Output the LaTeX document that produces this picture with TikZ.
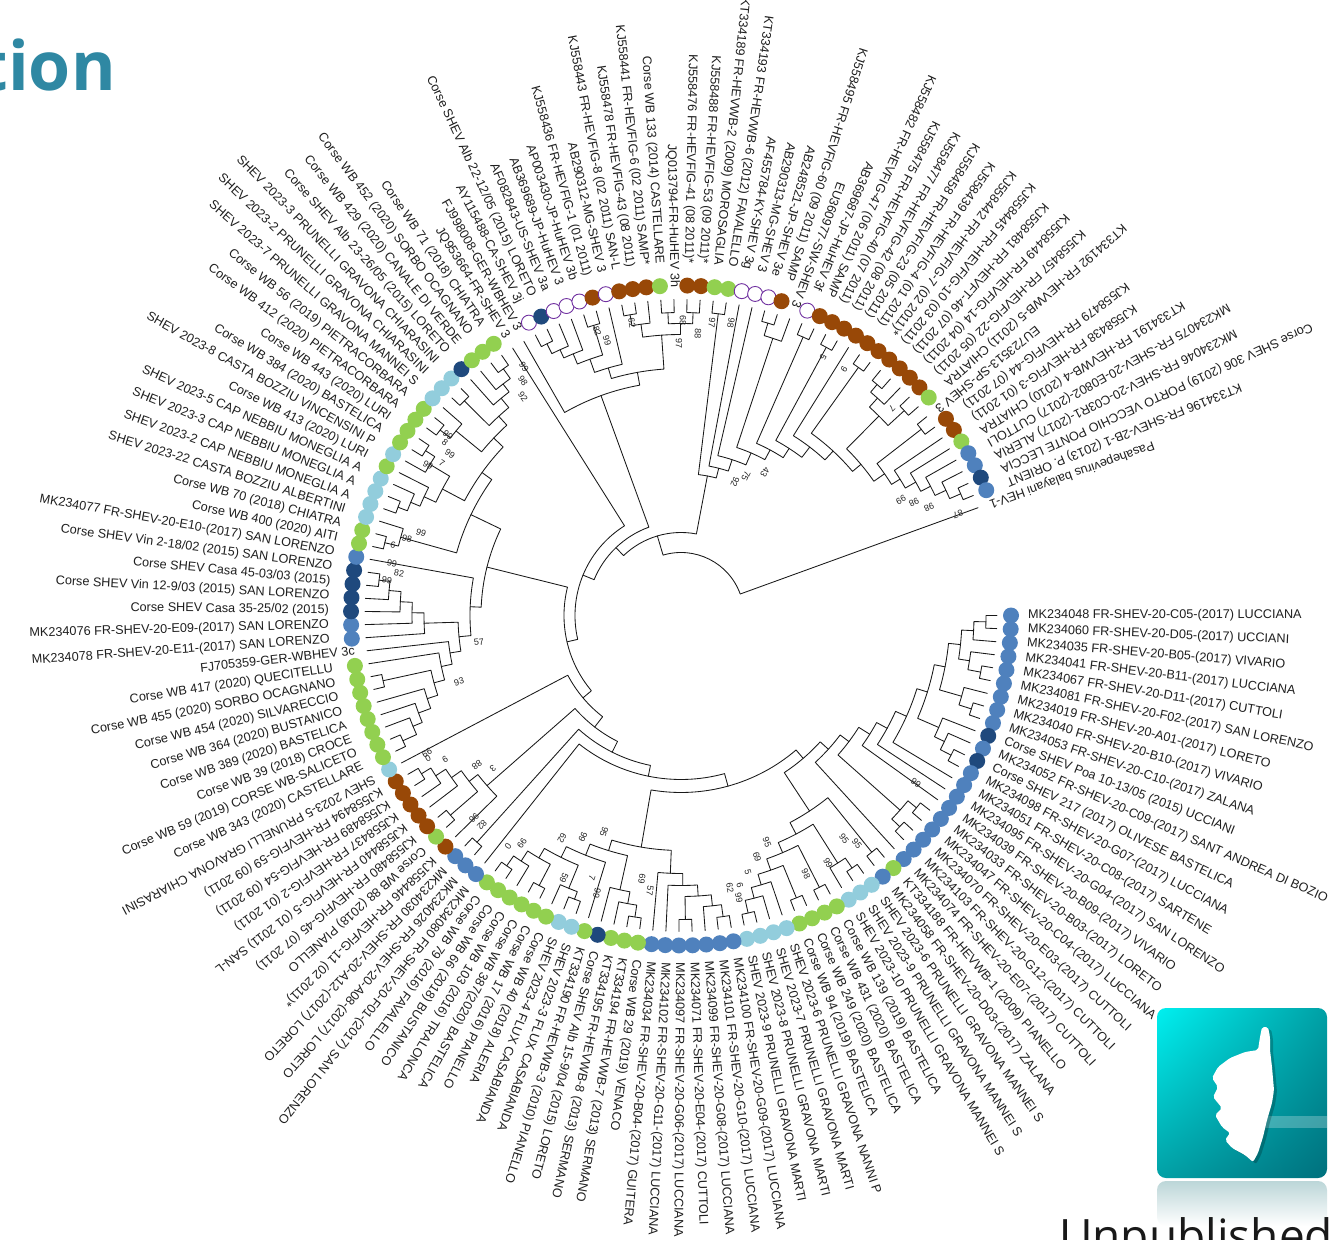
\documentclass[tikz,border=0pt]{standalone}
\usepackage{fontspec}
\usetikzlibrary{shadings}
\setmainfont{Liberation Sans}
\newfontfamily\titlefont{Open Sans}
\definecolor{cb}{HTML}{4F81BD}
\definecolor{cd}{HTML}{1F497D}
\definecolor{cl}{HTML}{92CDDC}
\definecolor{cg}{HTML}{92D050}
\definecolor{cr}{HTML}{984807}
\definecolor{cp}{HTML}{7030A0}
\definecolor{teal}{HTML}{2F88A3}
\definecolor{icoa}{RGB}{0,240,240}
\definecolor{icob}{RGB}{0,160,165}
\definecolor{icoc}{RGB}{2,160,165}
\definecolor{icod}{RGB}{0,112,125}
\definecolor{refl}{RGB}{188,214,216}
\tikzset{
 br/.style={line width=0.85pt,black!90,line cap=round,line join=round},
 leaflab/.style={font=\fontsize{12.65}{14}\selectfont,text=black!88,inner sep=0pt},
 boot/.style={font=\fontsize{9}{9}\selectfont,text=black!85,inner sep=0pt},
 dotb/.style={circle,fill=cb,minimum size=16pt,inner sep=0pt},
 dotd/.style={circle,fill=cd,minimum size=16pt,inner sep=0pt},
 dotl/.style={circle,fill=cl,minimum size=16pt,inner sep=0pt},
 dotg/.style={circle,fill=cg,minimum size=16pt,inner sep=0pt},
 dotr/.style={circle,fill=cr,minimum size=16pt,inner sep=0pt},
 doth/.style={circle,draw=cp,fill=white,line width=0.9pt,minimum size=15pt,inner sep=0pt},
}
\newcount\leafcount
\def\stepang{2.378}
\def\typen{n}
\def\leafn#1#2{%
  \global\advance\leafcount by 1
  \pgfmathsetmacro\tha{-\stepang*(\the\leafcount-1)}%
  \def\typea{#1}%
  \ifx\typea\typen\else
    \node[dot#1] (d\the\leafcount) at (\tha:330) {};
  \fi
  \ifnum\leafcount<66
    \ifx\typea\typen\def\rlab{328}\else\def\rlab{347}\fi
    \node[leaflab,anchor=mid west,rotate=\tha] (t\the\leafcount) at (\tha:\rlab) {#2};
  \else
    \ifx\typea\typen\def\rlab{328}\else\def\rlab{352}\fi
    \pgfmathsetmacro\thb{\tha+180}%
    \node[leaflab,anchor=mid east,rotate=\thb] (t\the\leafcount) at (\tha:\rlab) {#2};
  \fi
}
% tree node: name, radius, child, child
\def\trn#1#2#3#4{%
  \edef\ia{\csname i@#3\endcsname}\edef\ib{\csname i@#4\endcsname}%
  \edef\ra{\csname r@#3\endcsname}\edef\rb{\csname r@#4\endcsname}%
  \pgfmathsetmacro\tha{-\stepang*(\ia-1)}%
  \pgfmathsetmacro\thb{-\stepang*(\ib-1)}%
  \draw[br] (\tha:\ra) -- (\tha:#2) arc[start angle=\tha,end angle=\thb,radius=#2] -- (\thb:\rb);
  \pgfmathsetmacro\im{(\ia+\ib)/2}%
  \expandafter\xdef\csname i@#1\endcsname{\im}%
  \expandafter\xdef\csname r@#1\endcsname{#2}%
}
% support value at pixel position
\newcount\bootcount
\def\bst#1#2#3{%
  \global\advance\bootcount by 1
  \pgfmathsetmacro\ang{atan2(615.5-#2,#1-681)}%
  \pgfmathsetmacro\rot{(\ang<0 && \ang>-155) ? \ang : \ang+180}%
  \node[boot,rotate=\rot] (b\the\bootcount) at (#1-681,615.5-#2) {#3};
}
\begin{document}
\begin{tikzpicture}[x=1pt,y=1pt]
\useasboundingbox (-681,-623.5) rectangle (651,615.5);
\fill[white] (-681,-623.5) rectangle (651,615.5);
\foreach \k in {1,...,144}{\expandafter\xdef\csname i@\k\endcsname{\k}\expandafter\xdef\csname r@\k\endcsname{316}}
% ---- tree: top right ladder
\trn{a15}{305}{142}{143}
\trn{a14}{293}{141}{a15}
\trn{a13}{281}{140}{a14}
\trn{a12}{270}{139}{a13}
\trn{a11}{258}{138}{a12}
\trn{c136}{304}{136}{137}
\trn{a10}{248}{c136}{a11}
\trn{c131}{303}{131}{132}
\trn{c131b}{293}{c131}{133}
\trn{c134}{303}{134}{135}
\trn{c1}{281}{c131b}{c134}
\trn{a9}{235}{c1}{a10}
\trn{c129}{305}{129}{130}
\trn{a8}{224}{c129}{a9}
\trn{a7}{212}{128}{a8}
\trn{c126}{305}{126}{127}
\trn{a6}{199}{c126}{a7}
\trn{c124}{304}{124}{125}
\trn{a5}{188}{c124}{a6}
\trn{c121}{305}{121}{122}
\trn{c121b}{292}{c121}{123}
\trn{a4}{177}{c121b}{a5}
\trn{a3}{164}{120}{a4}
\trn{a2}{152}{119}{a3}
\trn{c117}{304}{117}{118}
\trn{a1}{142}{c117}{a2}
% ---- top group
\trn{c113}{303}{113}{114}
\trn{c115}{303}{115}{116}
\trn{n4}{292}{c113}{c115}
\trn{c110}{305}{110}{111}
\trn{n5}{294}{c110}{112}
\trn{n6}{281}{n5}{n4}
\trn{c103}{303}{103}{104}
\trn{c103b}{292}{c103}{105}
\trn{c103c}{283}{c103b}{106}
\trn{c107}{303}{107}{108}
\trn{n9}{272}{c103c}{c107}
\trn{n8}{258}{n9}{109}
\trn{n7}{247}{n8}{n6}
\trn{n3}{234}{102}{n7}
% ---- upper left
\trn{c99}{304}{99}{100}
\trn{bb}{292}{98}{c99}
\trn{aa}{282}{97}{bb}
\trn{c95}{305}{95}{96}
\trn{z}{270}{c95}{aa}
\trn{c92}{304}{92}{93}
\trn{c92b}{291}{94}{c92}
\trn{y}{258}{c92b}{z}
\trn{c90}{304}{90}{91}
\trn{c89}{293}{89}{c90}
\trn{c85}{303}{85}{86}
\trn{c85b}{293}{87}{c85}
\trn{c85c}{283}{88}{c85b}
\trn{w}{270}{c85c}{c89}
\trn{v}{245}{w}{y}
\trn{c82}{305}{83}{82}
\trn{c82b}{291}{84}{c82}
\trn{uu}{233}{c82b}{v}
% ---- left column
\trn{d1}{304}{80}{79}
\trn{d2}{293}{d1}{78}
\trn{d3}{281}{d2}{77}
\trn{d4}{269}{d3}{76}
\trn{d5}{257}{d4}{75}
\trn{e1}{305}{67}{66}
\trn{e2}{290}{68}{e1}
\trn{e3}{280}{69}{e2}
\trn{u7}{267}{70}{e3}
\trn{e4}{305}{72}{71}
\trn{u6}{256}{e4}{u7}
\trn{u5}{245}{73}{u6}
\trn{u4}{234}{74}{u5}
\trn{u3}{223}{d5}{u4}
\trn{u2}{211}{81}{u3}
\trn{u1}{200}{uu}{u2}
% ---- lower left
\trn{p1}{304}{64}{63}
\trn{p2}{293}{62}{p1}
\trn{p3}{281}{61}{p2}
\trn{q1}{305}{60}{59}
\trn{p4}{269}{p3}{q1}
\trn{p5}{258}{p4}{58}
\trn{c56}{305}{57}{56}
% ---- bottom
\trn{f1}{305}{54}{53}
\trn{f2}{293}{f1}{52}
\trn{f3}{305}{51}{50}
\trn{b4}{281}{f2}{f3}
\trn{f4}{303}{48}{47}
\trn{f5}{295}{49}{f4}
\trn{b3}{270}{b4}{f5}
\trn{b2}{258}{b3}{46}
\trn{g1}{305}{43}{42}
\trn{g2}{293}{44}{g1}
\trn{g3}{281}{45}{g2}
\trn{b1}{246}{b2}{g3}
\trn{h1}{304}{39}{38}
\trn{h2}{304}{36}{35}
\trn{r3}{292}{37}{h2}
\trn{r2}{281}{h1}{r3}
\trn{r1}{270}{40}{r2}
\trn{r0}{258}{41}{r1}
\trn{bb0}{235}{b1}{r0}
\trn{t0}{305}{34}{33}
\trn{t1}{292}{t0}{32}
\trn{t2}{281}{t1}{31}
\trn{k1}{305}{30}{29}
\trn{t3}{270}{t2}{k1}
\trn{k2}{305}{28}{27}
\trn{s2}{258}{t3}{k2}
\trn{k3}{305}{25}{24}
\trn{k4}{293}{26}{k3}
\trn{s1}{247}{s2}{k4}
\trn{k5}{304}{23}{22}
\trn{s}{234}{s1}{k5}
% ---- lower right ladder
\trn{m1}{304}{20}{19}
\trn{m2}{304}{18}{17}
\trn{m3}{293}{m1}{m2}
\trn{o1}{305}{1}{2}
\trn{o2}{293}{o1}{3}
\trn{o3}{305}{5}{6}
\trn{o4}{292}{4}{o3}
\trn{o5}{281}{o4}{o2}
\trn{o6}{305}{8}{9}
\trn{o7}{292}{7}{o6}
\trn{rz}{269}{o7}{o5}
\trn{o8}{304}{13}{12}
\trn{o9}{292}{o8}{11}
\trn{ry}{281}{o9}{10}
\trn{rx}{258}{ry}{rz}
\trn{rw}{247}{14}{rx}
\trn{rv}{235}{15}{rw}
\trn{ru}{223}{16}{rv}
\trn{rt}{210}{m3}{ru}
\trn{rs}{199}{21}{rt}
\trn{rr}{188}{s}{rs}
% ---- backbone
\trn{l5}{177}{bb0}{rr}
\trn{l4}{164}{55}{l5}
\trn{l3}{153}{c56}{l4}
\trn{l2}{141}{p5}{l3}
\trn{l}{128}{65}{l2}
\trn{n12}{117}{u1}{l}
\trn{n11}{106}{101}{n12}
\trn{n2}{94}{n3}{n11}
\trn{n1}{83}{n2}{a1}
\trn{rootn}{63}{n1}{144}
% ---- leaves
\leafn{b}{MK234048 FR-SHEV-20-C05-(2017) LUCCIANA}
\leafn{b}{MK234060 FR-SHEV-20-D05-(2017) UCCIANI}
\leafn{b}{MK234035 FR-SHEV-20-B05-(2017) VIVARIO}
\leafn{b}{MK234041 FR-SHEV-20-B11-(2017) LUCCIANA}
\leafn{b}{MK234067 FR-SHEV-20-D11-(2017) CUTTOLI}
\leafn{b}{MK234081 FR-SHEV-20-F02-(2017) SAN LORENZO}
\leafn{b}{MK234019 FR-SHEV-20-A01-(2017) LORETO}
\leafn{b}{MK234040 FR-SHEV-20-B10-(2017) VIVARIO}
\leafn{b}{MK234053 FR-SHEV-20-C10-(2017) ZALANA}
\leafn{d}{Corse SHEV Poa 10-13/05 (2015) UCCIANI}
\leafn{b}{MK234052 FR-SHEV-20-C09-(2017) SANT ANDREA DI BOZIO}
\leafn{d}{Corse SHEV 217 (2017) OLIVESE BASTELICA}
\leafn{b}{MK234098 FR-SHEV-20-G07-(2017) LUCCIANA}
\leafn{b}{MK234051 FR-SHEV-20-C08-(2017) SARTENE}
\leafn{b}{MK234095 FR-SHEV-20-G04-(2017) SAN LORENZO}
\leafn{b}{MK234039 FR-SHEV-20-B09-(2017) VIVARIO}
\leafn{b}{MK234033 FR-SHEV-20-B03-(2017) LORETO}
\leafn{b}{MK234047 FR-SHEV-20-C04-(2017) LUCCIANA}
\leafn{b}{MK234070 FR-SHEV-20-E03-(2017) CUTTOLI}
\leafn{b}{MK234103 FR-SHEV-20-G12-(2017) CUTTOLI}
\leafn{b}{MK234074 FR-SHEV-20-E07-(2017) CUTTOLI}
\leafn{g}{KT334188 FR-HEVWB-1 (2009) PIANELLO}
\leafn{b}{MK234058 FR-SHEV-20-D03-(2017) ZALANA}
\leafn{l}{SHEV 2023-6 PRUNELLI GRAVONA MANNEI S}
\leafn{l}{SHEV 2023-9 PRUNELLI GRAVONA MANNEI S}
\leafn{l}{SHEV 2023-10 PRUNELLI GRAVONA MANNEI S}
\leafn{g}{Corse WB 139 (2019) BASTELICA}
\leafn{g}{Corse WB 431 (2020) BASTELICA}
\leafn{g}{Corse WB 249 (2020) BASTELICA}
\leafn{g}{Corse WB 94 (2019) BASTELICA}
\leafn{l}{SHEV 2023-6 PRUNELLI GRAVONA NANNI P}
\leafn{l}{SHEV 2023-7 PRUNELLI GRAVONA MARTI}
\leafn{l}{SHEV 2023-8 PRUNELLI GRAVONA MARTI}
\leafn{l}{SHEV 2023-9 PRUNELLI GRAVONA MARTI}
\leafn{b}{MK234100 FR-SHEV-20-G09-(2017) LUCCIANA}
\leafn{b}{MK234101 FR-SHEV-20-G10-(2017) LUCCIANA}
\leafn{b}{MK234099 FR-SHEV-20-G08-(2017) LUCCIANA}
\leafn{b}{MK234071 FR-SHEV-20-E04-(2017) CUTTOLI}
\leafn{b}{MK234097 FR-SHEV-20-G06-(2017) LUCCIANA}
\leafn{b}{MK234102 FR-SHEV-20-G11-(2017) LUCCIANA}
\leafn{b}{MK234034 FR-SHEV-20-B04-(2017) GUITERA}
\leafn{g}{Corse WB 29 (2019) VENACO}
\leafn{g}{KT334194 FR-HEVWB-7 (2013) SERMANO}
\leafn{g}{KT334195 FR-HEVWB-8 (2013) SERMANO}
\leafn{d}{Corse SHEV Alb 15-9/04 (2015) LORETO}
\leafn{g}{KT334190 FR-HEVWB-3 (2010) PIANELLO}
\leafn{l}{SHEV 2023-3 FLUX CASABIANDA}
\leafn{l}{SHEV 2023-4 FLUX CASABIANDA}
\leafn{g}{Corse WB 40 (2018) ALERIA}
\leafn{g}{Corse WB 17 (2016) PIANELLO}
\leafn{g}{Corse WB 387(2020) BASTELICA}
\leafn{g}{Corse WB 103 (2016) TRALONCA}
\leafn{g}{Corse WB 66 (2018) BUSTANICO}
\leafn{g}{Corse WB 79 (2016) FAVALELLO}
\leafn{b}{MK234080 FR-SHEV-20-F01-(2017) SAN LORENZO}
\leafn{b}{MK234026 FR-SHEV-20-A08-(2017) LORETO}
\leafn{b}{MK234030 FR-SHEV-20-A12-(2017) LORETO}
\leafn{r}{KJ558446 FR-HEVFIG-11 (02 2011)*}
\leafn{g}{Corse WB 88 (2018) PIANELLO}
\leafn{r}{KJ558480 FR-HEVFIG-45 (07 2011)}
\leafn{r}{KJ558440 FR-HEVFIG-5 (01 2011) SAN-L}
\leafn{r}{KJ558437 FR-HEVFIG-2 (01 2011)}
\leafn{r}{KJ558489 FR-HEVFIG-54 (09 2011)}
\leafn{r}{KJ558494 FR-HEVFIG-59 (09 2011)}
\leafn{l}{SHEV 2023-5 PRUNELLI GRAVONA CHIARASINI}
\leafn{g}{Corse WB 343 (2020) CASTELLARE}
\leafn{g}{Corse WB 59 (2019) CORSE WB-SALICETO}
\leafn{g}{Corse WB 39 (2018) CROCE}
\leafn{g}{Corse WB 389 (2020) BASTELICA}
\leafn{g}{Corse WB 364 (2020) BUSTANICO}
\leafn{g}{Corse WB 454 (2020) SILVARECCIO}
\leafn{g}{Corse WB 455 (2020) SORBO OCAGNANO}
\leafn{g}{Corse WB 417 (2020) QUECITELLU}
\leafn{n}{FJ705359-GER-WBHEV 3c}
\leafn{b}{MK234078 FR-SHEV-20-E11-(2017) SAN LORENZO}
\leafn{b}{MK234076 FR-SHEV-20-E09-(2017) SAN LORENZO}
\leafn{d}{Corse SHEV Casa 35-25/02 (2015)}
\leafn{d}{Corse SHEV Vin 12-9/03 (2015) SAN LORENZO}
\leafn{d}{Corse SHEV Casa 45-03/03 (2015)}
\leafn{d}{Corse SHEV Vin 2-18/02 (2015) SAN LORENZO}
\leafn{b}{MK234077 FR-SHEV-20-E10-(2017) SAN LORENZO}
\leafn{g}{Corse WB 400 (2020) AITI}
\leafn{g}{Corse WB 70 (2018) CHIATRA}
\leafn{l}{SHEV 2023-22 CASTA BOZZIU ALBERTINI}
\leafn{l}{SHEV 2023-2 CAP NEBBIU MONEGLIA A}
\leafn{l}{SHEV 2023-3 CAP NEBBIU MONEGLIA A}
\leafn{l}{SHEV 2023-5 CAP NEBBIU MONEGLIA A}
\leafn{g}{Corse WB 413 (2020) LURI}
\leafn{l}{SHEV 2023-8 CASTA BOZZIU VINCENSINI P}
\leafn{g}{Corse WB 384 (2020) BASTELICA}
\leafn{g}{Corse WB 443 (2020) LURI}
\leafn{g}{Corse WB 412 (2020) PIETRACORBARA}
\leafn{g}{Corse WB 56 (2019) PIETRACORBARA}
\leafn{l}{SHEV 2023-7 PRUNELLI GRAVONA MANNEI S}
\leafn{l}{SHEV 2023-2 PRUNELLI GRAVONA CHIARASINI}
\leafn{l}{SHEV 2023-3 PRUNELLI GRAVONA CHIARASINI}
\leafn{d}{Corse SHEV Alb 23-26/05 (2015) LORETO}
\leafn{g}{Corse WB 429 (2020) CANALE DI VERDE}
\leafn{g}{Corse WB 452 (2020) SORBO OCAGNANO}
\leafn{g}{Corse WB 71 (2018) CHIATRA}
\leafn{n}{JQ953664-FR-SHEV 3}
\leafn{n}{FJ998008-GER-WBHEV 3}
\leafn{h}{AY115488-CA-SHEV 3j}
\leafn{d}{Corse SHEV Alb 22-12/05 (2015) LORETO}
\leafn{h}{AF082843-US-SHEV 3a}
\leafn{h}{AB369689-JP-HuHEV 3}
\leafn{h}{AP003430-JP-HuHEV 3b}
\leafn{r}{KJ558436 FR-HEVFIG-1 (01 2011)}
\leafn{h}{AB290312-MG-SHEV 3}
\leafn{r}{KJ558443 FR-HEVFIG-8 (02 2011) SAN-L}
\leafn{r}{KJ558478 FR-HEVFIG-43 (08 2011)}
\leafn{r}{KJ558441 FR-HEVFIG-6 (02 2011) SAMP*}
\leafn{g}{Corse WB 133 (2014) CASTELLARE}
\leafn{n}{JQ013794-FR-HuHEV 3h}
\leafn{r}{KJ558476 FR-HEVFIG-41 (08 2011)*}
\leafn{r}{KJ558488 FR-HEVFIG-53 (09 2011)*}
\leafn{g}{KT334189 FR-HEVWB-2 (2009) MOROSAGLIA}
\leafn{g}{KT334193 FR-HEVWB-6 (2012) FAVALELLO}
\leafn{h}{AF455784-KY-SHEV 3g}
\leafn{h}{AB290313-MG-SHEV 3}
\leafn{h}{AB248521-JP-SHEV 3e}
\leafn{r}{KJ558495 FR-HEVFIG-60 (09 2011) SAMP}
\leafn{n}{EU360977-SW-SHEV 3}
\leafn{h}{AB369687-JP-HuHEV 3f}
\leafn{r}{KJ558482 FR-HEVFIG-47 (06 2011) SAMP}
\leafn{r}{KJ558475 FR-HEVFIG-40 (07 2011)}
\leafn{r}{KJ558477 FR-HEVFIG-42 (08 2011)}
\leafn{r}{KJ558458 FR-HEVFIG-23 (05 2011)}
\leafn{r}{KJ558439 FR-HEVFIG-4 (01 2011)}
\leafn{r}{KJ558442 FR-HEVFIG-7 (02 2011)*}
\leafn{r}{KJ558445 FR-HEVFIG-10 (03 2011)}
\leafn{r}{KJ558481 FR-HEVFT-46 (07 2011)}
\leafn{r}{KJ558449 FR-HEVFIG-14 (04 2011)}
\leafn{r}{KJ558457 FR-HEVFIG-22 (05 2011)}
\leafn{g}{KT334192 FR-HEVWB-5 (2011) CHIATRA}
\leafn{n}{EU723513-SP-SHEV 3}
\leafn{r}{KJ558479 FR-HEVFIG-44 (07 2011)}
\leafn{r}{KJ558438 FR-HEVFIG-3 (01 2011)}
\leafn{g}{KT334191 FR-HEVWB-4 (2010) CHIATRA}
\leafn{b}{MK234075 FR-SHEV-20-E0802-(2017) CUTTOLI}
\leafn{b}{MK234046 FR-SHEV-20-C03R1-(2017) ALERIA}
\leafn{d}{Corse SHEV 306 (2019) PORTO VECCHIO PONTE LECCIA}
\leafn{b}{KT334196 FR-SHEV-2B-1 (2013) P. ORIENT}
\leafn{n}{Pasahepevirus balayani HEV-1}
% ---- support values
\bst{524}{367}{99}\bst{523}{381}{98}\bst{523}{397}{92}\bst{448}{435}{99}\bst{445}{442}{8}
\bst{450}{454}{99}\bst{428}{465}{99}\bst{442}{463}{7}\bst{421}{533}{99}\bst{407}{539}{98}
\bst{393}{545}{6}\bst{392}{563}{99}\bst{399}{573}{82}\bst{387}{580}{99}\bst{597}{331}{82}
\bst{607}{341}{99}\bst{632}{323}{62}\bst{683}{321}{68}\bst{698}{334}{88}\bst{679}{343}{97}
\bst{712}{323}{97}\bst{731}{323}{98}\bst{823}{357}{5}\bst{844}{369}{9}\bst{892}{408}{7}
\bst{765}{472}{43}\bst{746}{476}{75}\bst{735}{482}{92}\bst{901}{500}{99}\bst{914}{502}{98}
\bst{929}{507}{98}\bst{958}{514}{87}\bst{479}{642}{57}\bst{459}{682}{93}\bst{427}{753}{99}
\bst{428}{758}{0}\bst{445}{759}{9}\bst{477}{765}{88}\bst{493}{768}{3}\bst{474}{818}{96}
\bst{482}{825}{82}\bst{508}{846}{0}\bst{522}{843}{99}\bst{562}{838}{62}\bst{583}{837}{99}
\bst{604}{832}{95}\bst{564}{878}{59}\bst{592}{878}{7}\bst{597}{893}{99}\bst{642}{879}{69}
\bst{650}{891}{57}\bst{730}{888}{62}\bst{740}{885}{6}\bst{739}{898}{99}\bst{748}{872}{5}
\bst{757}{857}{69}\bst{767}{842}{95}\bst{806}{874}{98}\bst{828}{863}{99}\bst{844}{839}{95}
\bst{857}{844}{95}\bst{916}{783}{99}
% ---- pixel-placed pieces
\begin{scope}[shift={(-681,615.5)},y=-1pt]
\node[anchor=base east,text=teal,font=\titlefont\bfseries\fontsize{68}{72}\selectfont,inner sep=0pt] (titlepart) at (116,91) {tion};
\shade[rounded corners=9pt,top color=refl,bottom color=white] (1157,1181) rectangle (1327,1226);
\shade[rounded corners=9pt,upper left=icoa,upper right=icob,lower left=icoc,lower right=icod] (1157,1008) rectangle (1327,1178);
\fill[white,opacity=0.25] (1258,1116) rectangle (1327,1128);
\fill[black,opacity=0.22,rounded corners=2pt,shift={(3,2)}] (1262,1027)--(1268,1027)--(1270,1037)--(1270,1050)--(1272,1067)--(1274,1090)--(1272,1103)--(1267,1120)--(1263,1137)--(1258,1153)--(1253,1162)--(1245,1155)--(1232,1148)--(1225,1140)--(1230,1133)--(1222,1127)--(1215,1115)--(1222,1108)--(1213,1097)--(1218,1087)--(1212,1078)--(1218,1067)--(1230,1058)--(1245,1052)--(1258,1050)--(1260,1037)--cycle;
\fill[white,rounded corners=2pt] (1262,1027)--(1268,1027)--(1270,1037)--(1270,1050)--(1272,1067)--(1274,1090)--(1272,1103)--(1267,1120)--(1263,1137)--(1258,1153)--(1253,1162)--(1245,1155)--(1232,1148)--(1225,1140)--(1230,1133)--(1222,1127)--(1215,1115)--(1222,1108)--(1213,1097)--(1218,1087)--(1212,1078)--(1218,1067)--(1230,1058)--(1245,1052)--(1258,1050)--(1260,1037)--cycle;
\node[anchor=base west,font=\titlefont\fontsize{46}{50}\selectfont,inner sep=0pt,text=black!90] (unpub) at (1059,1252) {Unpublished};
\end{scope}
\end{tikzpicture}
\end{document}
